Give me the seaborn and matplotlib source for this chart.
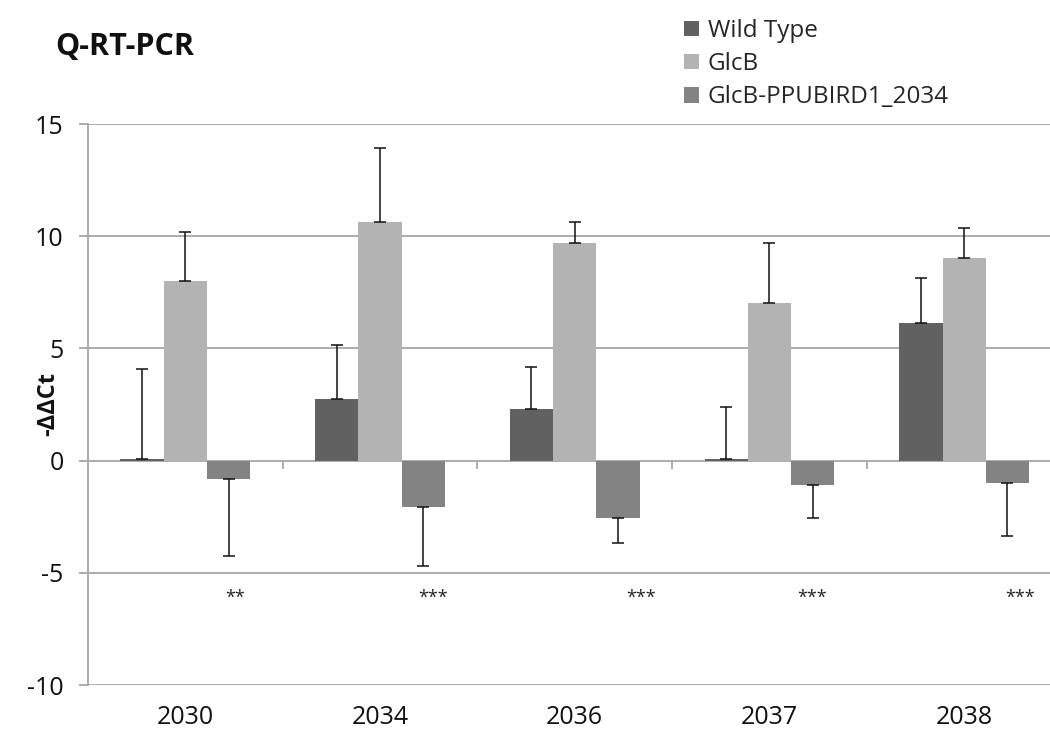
import numpy as np
import pandas as pd
import matplotlib
matplotlib.use("Agg")
import matplotlib.pyplot as plt
import seaborn as sns

# Q-RT-PCR results (-ΔΔCt) per gene
genes = ["2030", "2034", "2036", "2037", "2038"]
strains = ["Wild Type", "GlcB", "GlcB-PPUBIRD1_2034"]

wild_type = [0.08, 2.73, 2.29, 0.08, 6.12]
glcb = [8.02, 10.65, 9.68, 7.01, 9.02]
glcb_ppubird = [-0.83, -2.08, -2.55, -1.10, -0.98]

wild_type_err = [4.0, 2.42, 1.90, 2.32, 2.03]
glcb_err = [2.18, 3.29, 0.94, 2.67, 1.36]
glcb_ppubird_err = [3.40, 2.61, 1.10, 1.45, 2.36]

significance = ["**", "***", "***", "***", "***"]
star_offsets = [0.255, 0.272, 0.34, 0.218, 0.287]
star_level = -6.12

colors = ["#616161", "#b3b3b3", "#838383"]

values = [wild_type, glcb, glcb_ppubird]
errors = [wild_type_err, glcb_err, glcb_ppubird_err]

df = pd.DataFrame({
    "gene": np.tile(genes, len(strains)),
    "strain": np.repeat(strains, len(genes)),
    "value": np.concatenate(values),
})

sns.set_theme(style="white")
plt.rcParams["font.family"] = ["Open Sans", "DejaVu Sans"]
plt.rcParams["axes.unicode_minus"] = False

fig = plt.figure(figsize=(10.5, 7.31), dpi=100)
ax = fig.add_axes([88 / 1050, 1 - 685.2 / 731, (1061.5 - 88) / 1050, (685.2 - 124) / 731])

sns.barplot(data=df, x="gene", y="value", hue="strain", order=genes,
            hue_order=strains, palette=colors, width=2 / 3, linewidth=0,
            errorbar=None, saturation=1, ax=ax, legend=True)

# one-sided error bars pointing away from zero
for cont, vals, errs in zip(ax.containers, values, errors):
    xs = [p.get_x() + p.get_width() / 2 for p in cont.patches]
    lower = [e if v < 0 else 0 for v, e in zip(vals, errs)]
    upper = [e if v >= 0 else 0 for v, e in zip(vals, errs)]
    ax.errorbar(xs, vals, yerr=[lower, upper], fmt="none", ecolor="#111111",
                elinewidth=1.1, capsize=4.5, capthick=1.1, zorder=4)

for i, (txt, off) in enumerate(zip(significance, star_offsets)):
    ax.text(i + off, star_level, txt, ha="center", va="center",
            fontsize=13, color="#222222")

ax.set_xlim(-0.5, len(genes) - 0.5)
ax.set_ylim(-10, 15)
ax.set_yticks([-10, -5, 0, 5, 10, 15])
ax.yaxis.grid(True, color="#a6a6a6", linewidth=1.3)
ax.set_axisbelow(True)
for s in ["top", "right", "bottom"]:
    ax.spines[s].set_visible(False)
ax.spines["left"].set_color("#a6a6a6")
ax.spines["left"].set_linewidth(1.3)
ax.tick_params(axis="y", length=6.5, width=1.3, color="#a6a6a6", pad=11,
               labelsize=18, labelcolor="#111111", left=True)
ax.tick_params(axis="x", length=0, pad=14, labelsize=18, labelcolor="#111111")
ax.set_xlabel("")
ax.set_ylabel("")

# category separators on the zero line
sec = ax.secondary_xaxis(10 / 25)
sec.set_xticks(np.arange(0.5, len(genes), 1.0))
sec.tick_params(axis="x", length=6, width=1.3, color="#a6a6a6", labelbottom=False,
                labeltop=False, direction="out")
sec.spines["bottom"].set_visible(False)
sec.spines["top"].set_visible(False)
sec.xaxis.set_ticks_position("bottom")
sec.set_xticklabels([])

handles, labels = ax.get_legend_handles_labels()
ax.get_legend().remove()
fig.legend(handles, labels, loc="upper left",
           bbox_to_anchor=(684 / 1050, 1 - 19 / 731), frameon=False,
           fontsize=17.5, handlelength=0.6, handleheight=0.6,
           handletextpad=0.38, labelspacing=0.38, borderpad=0, borderaxespad=0)

fig.text(55 / 1050, 1 - 55 / 731, "Q-RT-PCR", fontsize=22, fontweight="bold",
         ha="left", va="baseline", color="#111111")
fig.text(48 / 1050, 1 - 404 / 731, "-ΔΔCt", fontsize=17, fontweight="bold",
         rotation=90, ha="center", va="center", color="#111111")

fig.savefig("out.png", dpi=100)
